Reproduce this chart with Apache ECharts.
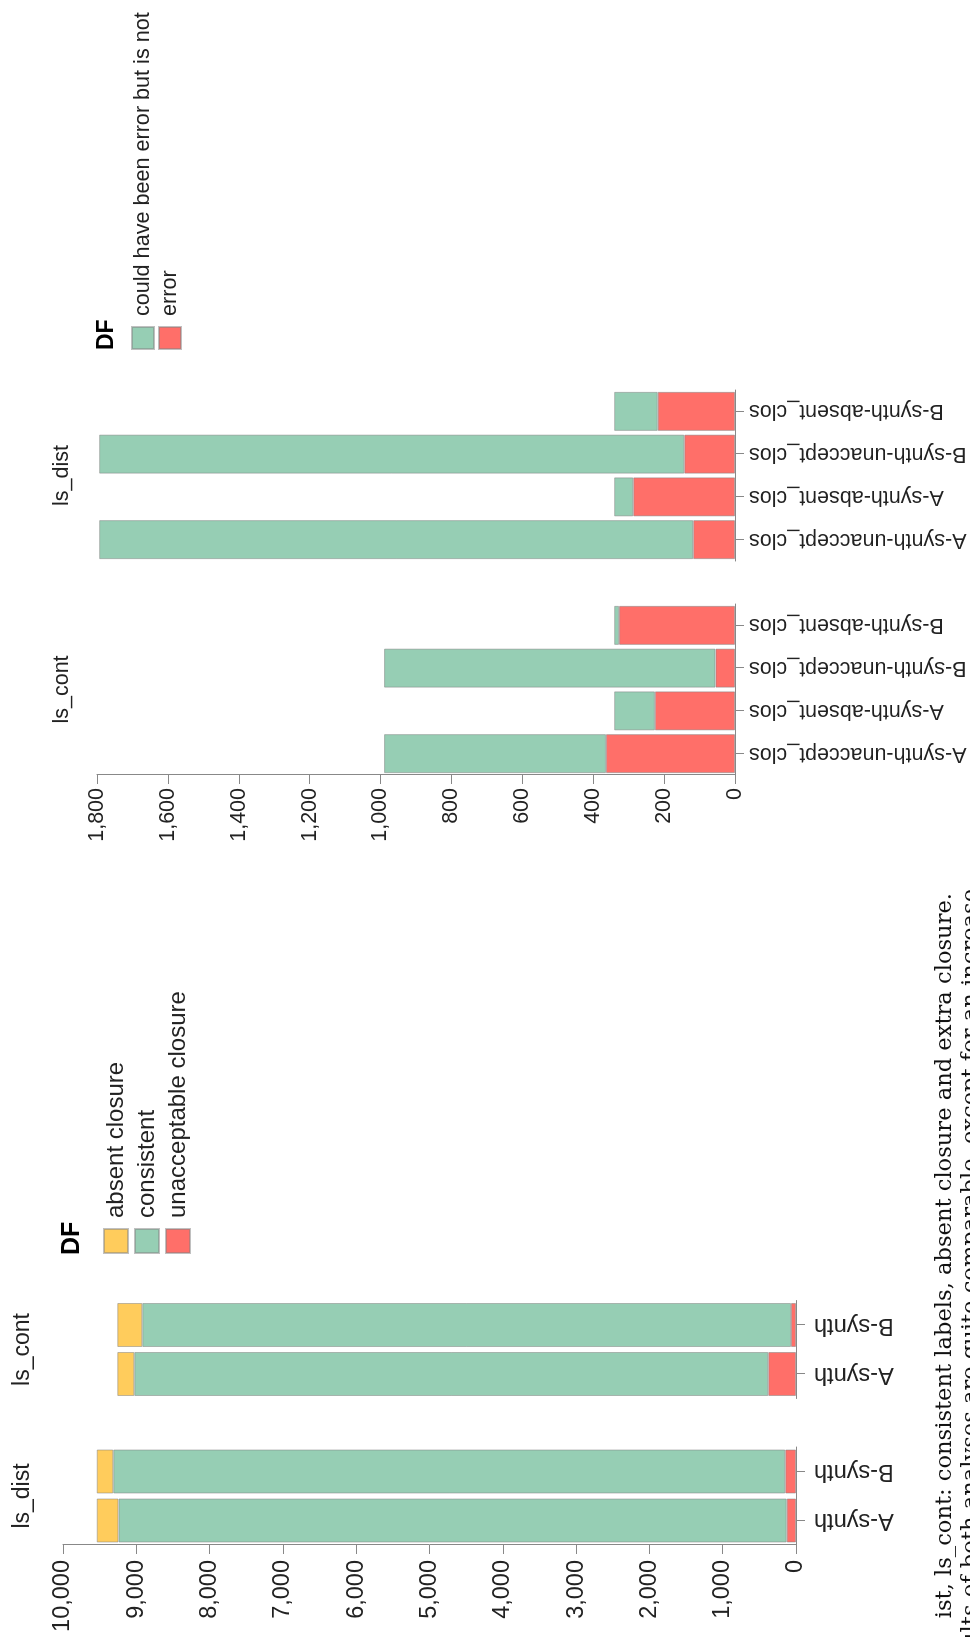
<!DOCTYPE html>
<html><head><meta charset="utf-8">
<script src="https://cdn.jsdelivr.net/npm/echarts@6.0.0/dist/echarts.min.js"></script>
<style>
html,body{margin:0;padding:0;background:#fff;overflow:hidden;width:970px;height:1637px;}
#wrap{position:absolute;left:0;top:0;width:1637px;height:970px;transform-origin:0 0;transform:translateY(1637px) rotate(-90deg);}
#chart{width:1637px;height:970px;}
</style></head><body>
<div id="wrap"><div id="chart"></div></div>
<script>
// ---- Chart 1 data (left chart, faceted by ls_dist / ls_cont) ----
const c1Categories = ['A-synth', 'B-synth'];
const c1Facets = ['ls_dist', 'ls_cont'];
const c1SeriesNames = ['absent closure', 'consistent', 'unacceptable closure'];
const distAbsent = [297, 226];
const distConsistent = [9116, 9168];
const distUnaccept = [127, 146];
const contAbsent = [232, 341];
const contConsistent = [8649, 8850];
const contUnaccept = [378, 68];
const c1AxisMax = 10000;
const c1AxisStep = 1000;

// ---- Chart 2 data (right chart, faceted by ls_cont / ls_dist) ----
const c2Categories = ['A-synth-unaccept_clos', 'A-synth-absent_clos', 'B-synth-unaccept_clos', 'B-synth-absent_clos'];
const c2Facets = ['ls_cont', 'ls_dist'];
const c2SeriesNames = ['could have been error but is not', 'error'];
const c2ContCould = [626, 115, 935, 14];
const c2ContError = [364, 226, 55, 327];
const c2DistCould = [1676, 54, 1651, 123];
const c2DistError = [118, 287, 143, 218];
const c2AxisMax = 1800;
const c2AxisStep = 200;

const legendTitle = 'DF';
const captionLines = [
  'ist, ls_cont: consistent labels, absent closure and extra closure.',
  'ults of both analyses are quite comparable, except for an increase'
];

// ---- styling ----
const FONT = 'Liberation Sans, Arial, Helvetica, sans-serif';
const SERIF = 'DejaVu Serif, Liberation Serif, serif';
const COL_YELLOW = '#ffcc5c', COL_GREEN = '#96ceb4', COL_RED = '#ff6f69';
const AXIS_COL = '#888', LABEL_COL = '#222';

const grids = [
  {left: 92, top: 63, width: 98, height: 733},      // c1 ls_dist
  {left: 238.5, top: 63, width: 98, height: 733},   // c1 ls_cont
  {left: 862, top: 97, width: 171, height: 638},    // c2 ls_cont
  {left: 1076, top: 97, width: 171, height: 638}    // c2 ls_dist
];

function catAxis(gi, cats, fs, margin) {
  return {
    type: 'category', gridIndex: gi, data: cats, boundaryGap: true,
    axisLine: {show: true, lineStyle: {color: AXIS_COL, width: 1}},
    axisTick: {show: true, alignWithLabel: true, length: 9, lineStyle: {color: AXIS_COL}},
    axisLabel: {rotate: 90, interval: 0, fontSize: fs, fontFamily: FONT, color: LABEL_COL, margin: margin},
    splitLine: {show: false}
  };
}
function valAxis(gi, max, step, show, fs, margin) {
  return {
    type: 'value', gridIndex: gi, min: 0, max: max, interval: step, show: show,
    axisLine: {show: true, lineStyle: {color: AXIS_COL, width: 1}},
    axisTick: {show: true, length: 9, lineStyle: {color: AXIS_COL}},
    axisLabel: {fontSize: fs, fontFamily: FONT, color: LABEL_COL, margin: margin,
      formatter: v => v.toLocaleString('en-US')},
    splitLine: {show: false}
  };
}
function bar(name, data, gi, stack, color, w) {
  return {
    type: 'bar', name: name, data: data, xAxisIndex: gi, yAxisIndex: gi, stack: stack,
    barWidth: w,
    itemStyle: {color: color, borderColor: 'rgba(130,130,130,0.5)', borderWidth: 1},
    emphasis: {disabled: true}
  };
}

const facetTitle = (text, gi, top, fs) => ({
  type: 'text', x: grids[gi].left + grids[gi].width / 2, y: top,
  style: {text: text, fontSize: fs, fontFamily: FONT, fill: LABEL_COL, align: 'center', verticalAlign: 'top'}
});

const option = {
  animation: false,
  backgroundColor: '#fff',
  grid: grids.map(g => Object.assign({containLabel: false}, g)),
  xAxis: [
    catAxis(0, c1Categories, 23.5, 18),
    catAxis(1, c1Categories, 23.5, 18),
    catAxis(2, c2Categories, 21.5, 14),
    catAxis(3, c2Categories, 21.5, 14)
  ],
  yAxis: [
    valAxis(0, c1AxisMax, c1AxisStep, true, 23.5, 15),
    valAxis(1, c1AxisMax, c1AxisStep, false, 23.5, 15),
    valAxis(2, c2AxisMax, c2AxisStep, true, 21.5, 13),
    valAxis(3, c2AxisMax, c2AxisStep, false, 21.5, 13)
  ],
  legend: [
    {
      data: c1SeriesNames, orient: 'vertical', left: 383, top: 103, padding: 0,
      itemWidth: 24, itemHeight: 24, itemGap: 5, icon: 'rect', selectedMode: false,
      textStyle: {fontSize: 24, fontFamily: FONT, color: LABEL_COL, lineHeight: 24, padding: [0, 0, 0, 6]}
    },
    {
      data: c2SeriesNames, orient: 'vertical', left: 1287, top: 131, padding: 0,
      itemWidth: 22, itemHeight: 22, itemGap: 3, icon: 'rect', selectedMode: false,
      textStyle: {fontSize: 21.6, fontFamily: FONT, color: LABEL_COL, lineHeight: 22, padding: [0, 0, 0, 6]}
    }
  ],
  series: [
    bar(c1SeriesNames[2], distUnaccept, 0, 'c1d', COL_RED, 44),
    bar(c1SeriesNames[1], distConsistent, 0, 'c1d', COL_GREEN, 44),
    bar(c1SeriesNames[0], distAbsent, 0, 'c1d', COL_YELLOW, 44),
    bar(c1SeriesNames[2], contUnaccept, 1, 'c1c', COL_RED, 44),
    bar(c1SeriesNames[1], contConsistent, 1, 'c1c', COL_GREEN, 44),
    bar(c1SeriesNames[0], contAbsent, 1, 'c1c', COL_YELLOW, 44),
    bar(c2SeriesNames[1], c2ContError, 2, 'c2c', COL_RED, 39),
    bar(c2SeriesNames[0], c2ContCould, 2, 'c2c', COL_GREEN, 39),
    bar(c2SeriesNames[1], c2DistError, 3, 'c2d', COL_RED, 39),
    bar(c2SeriesNames[0], c2DistCould, 3, 'c2d', COL_GREEN, 39)
  ],
  graphic: [
    facetTitle(c1Facets[0], 0, 11, 23),
    facetTitle(c1Facets[1], 1, 11, 23),
    facetTitle(c2Facets[0], 2, 51, 21.5),
    facetTitle(c2Facets[1], 3, 51, 21.5),
    {type: 'text', x: 382, y: 60, style: {text: legendTitle, fontSize: 25, fontWeight: 'bold', fontFamily: FONT, fill: '#000', align: 'left', verticalAlign: 'top'}},
    {type: 'text', x: 1287, y: 95, style: {text: legendTitle, fontSize: 23, fontWeight: 'bold', fontFamily: FONT, fill: '#000', align: 'left', verticalAlign: 'top'}},
    {type: 'text', x: 744, y: 934, style: {text: captionLines[0], fontSize: 22.6, fontFamily: SERIF, fill: '#111', align: 'right', verticalAlign: 'top'}},
    {type: 'text', x: 748, y: 960, style: {text: captionLines[1], fontSize: 22.6, fontFamily: SERIF, fill: '#111', align: 'right', verticalAlign: 'top'}}
  ]
};

const chart = echarts.init(document.getElementById('chart'), null, {renderer: 'canvas', width: 1637, height: 970});
chart.setOption(option);
</script></body></html>
